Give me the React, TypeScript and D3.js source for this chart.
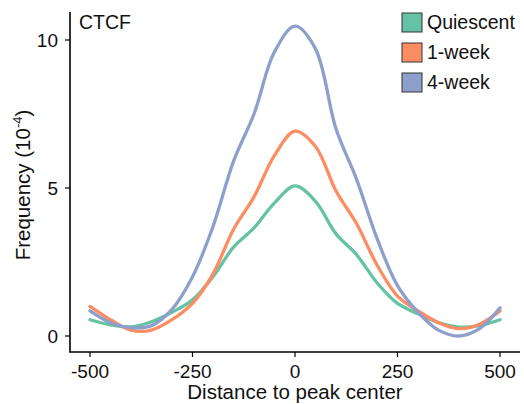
import { useEffect, useRef } from 'react';
import * as d3 from 'd3';

const positions = [-500, -450, -400, -350, -300, -250, -200, -150, -100, -50, 0, 50, 100, 150, 200, 250, 300, 350, 400, 450, 500];
const quiescent = [0.55, 0.38, 0.31, 0.48, 0.8, 1.22, 2.0, 3.0, 3.65, 4.5, 5.07, 4.55, 3.45, 2.75, 1.8, 1.1, 0.75, 0.45, 0.3, 0.35, 0.55];
const oneWeek = [1.0, 0.55, 0.2, 0.2, 0.55, 1.1, 2.1, 3.6, 4.7, 6.1, 6.92, 6.4, 4.9, 3.8, 2.4, 1.35, 0.85, 0.45, 0.25, 0.4, 0.85];
const fourWeek = [0.85, 0.45, 0.28, 0.35, 0.9, 2.0, 3.7, 5.9, 7.5, 9.6, 10.47, 9.7, 7.0, 5.3, 3.3, 1.7, 0.8, 0.2, 0.0, 0.25, 0.95];
const seriesNames = ['Quiescent', '1-week', '4-week'];
const seriesColors = ['#66c2a5', '#fc8d62', '#8da0cb'];
const xTicks = [-500, -250, 0, 250, 500];
const yTicks = [0, 5, 10];

const width = 524;
const height = 404;
const font = '"Liberation Sans", Arial, sans-serif';

const App = () => {
  const ref = useRef<SVGSVGElement>(null);

  useEffect(() => {
    const svg = d3.select(ref.current);
    svg.selectAll('*').remove();

    const x = d3.scaleLinear().domain([-500, 500]).range([90, 500]);
    const y = d3.scaleLinear().domain([0, 10]).range([336, 40]);
    const left = 70;
    const bottom = 352;
    const top = 12;
    const right = 520;

    const allSeries = [quiescent, oneWeek, fourWeek];
    const line = d3
      .line<number>()
      .x((_, i) => x(positions[i]))
      .y((d) => y(d))
      .curve(d3.curveCatmullRom.alpha(0.5));

    allSeries.forEach((values, i) => {
      svg
        .append('path')
        .attr('d', line(values))
        .attr('fill', 'none')
        .attr('stroke', seriesColors[i])
        .attr('stroke-width', 3.3)
        .attr('stroke-linecap', 'round');
    });

    // axes
    svg.append('line').attr('x1', left).attr('x2', left).attr('y1', top).attr('y2', bottom + 0.5)
      .attr('stroke', '#000').attr('stroke-width', 1.6);
    svg.append('line').attr('x1', left - 0.5).attr('x2', right).attr('y1', bottom).attr('y2', bottom)
      .attr('stroke', '#000').attr('stroke-width', 1.6);

    xTicks.forEach((t) => {
      svg.append('line').attr('x1', x(t)).attr('x2', x(t)).attr('y1', bottom).attr('y2', bottom + 5)
        .attr('stroke', '#000').attr('stroke-width', 1.2);
      svg.append('text').attr('x', x(t)).attr('y', 378).attr('text-anchor', 'middle')
        .attr('font-family', font).attr('font-size', 19).attr('fill', '#111').text(t);
    });

    yTicks.forEach((t) => {
      svg.append('line').attr('x1', left - 5).attr('x2', left).attr('y1', y(t)).attr('y2', y(t))
        .attr('stroke', '#000').attr('stroke-width', 1.2);
      svg.append('text').attr('x', 58).attr('y', y(t) + 7).attr('text-anchor', 'end')
        .attr('font-family', font).attr('font-size', 19).attr('fill', '#111').text(t);
    });

    svg.append('text').attr('x', 295).attr('y', 399).attr('text-anchor', 'middle')
      .attr('font-family', font).attr('font-size', 20.5).attr('fill', '#111').text('Distance to peak center');

    const yTitle = svg.append('text').attr('transform', 'translate(30,185) rotate(-90)')
      .attr('text-anchor', 'middle').attr('font-family', font).attr('font-size', 20.5).attr('fill', '#111');
    yTitle.append('tspan').text('Frequency (10');
    yTitle.append('tspan').attr('font-size', 13).attr('dy', -8).text('-4');
    yTitle.append('tspan').attr('dy', 8).text(')');

    svg.append('text').attr('x', 79).attr('y', 29).attr('font-family', font).attr('font-size', 19.5)
      .attr('fill', '#111').text('CTCF');

    // legend
    seriesNames.forEach((name, i) => {
      const ly = 13 + i * 30;
      svg.append('rect').attr('x', 402).attr('y', ly).attr('width', 20).attr('height', 19)
        .attr('fill', seriesColors[i]).attr('stroke', '#333').attr('stroke-width', 1);
      svg.append('text').attr('x', 427).attr('y', ly + 16).attr('font-family', font).attr('font-size', 19.5)
        .attr('fill', '#111').text(name);
    });
  }, []);

  return (
    <svg ref={ref} width={width} height={height} style={{ position: 'absolute', left: 0, top: 0, background: '#fff' }} />
  );
};

export default App;
